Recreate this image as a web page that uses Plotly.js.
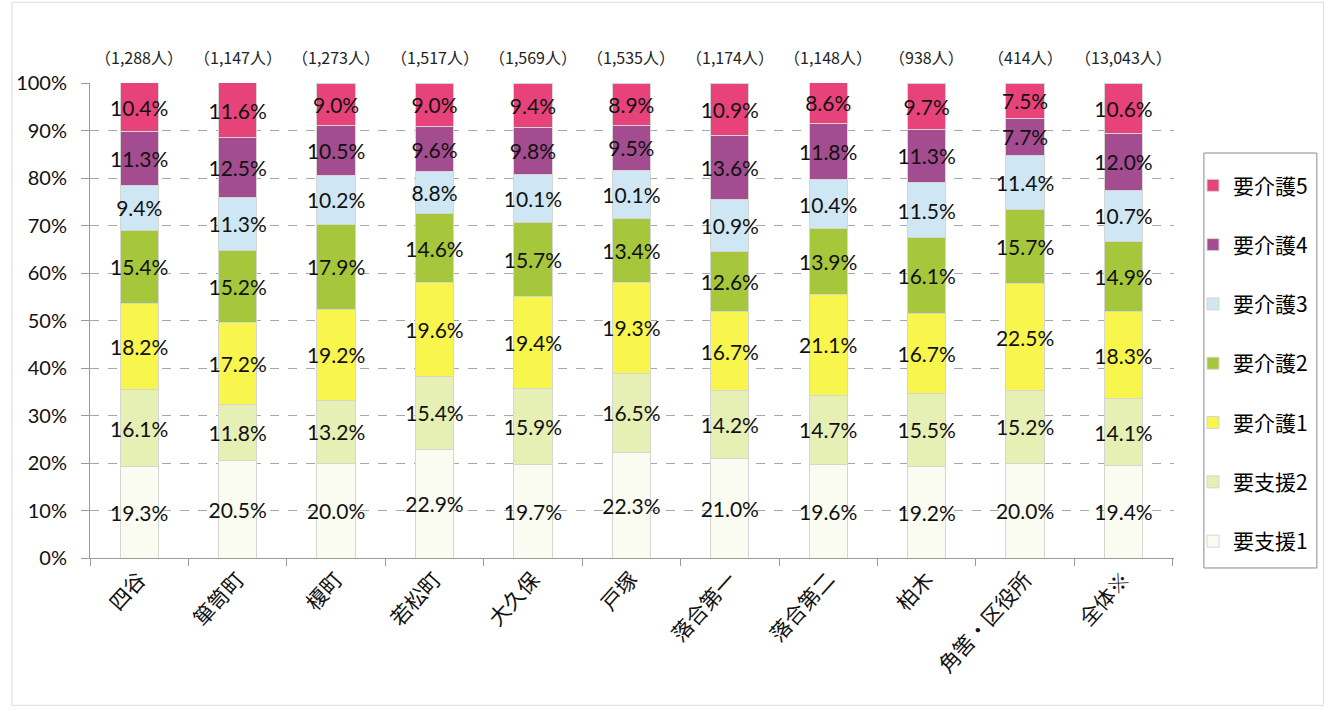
<!DOCTYPE html>
<html><head><meta charset="utf-8">
<script src="https://cdn.plot.ly/plotly-3.0.1.min.js"></script>
<style>html,body{margin:0;padding:0;background:#fff;}</style>
</head><body>
<div id="chart" style="width:1324px;height:712px;"></div>
<script>
const categories = ['四谷','箪笥町','榎町','若松町','大久保','戸塚','落合第一','落合第二','柏木','角筈・区役所','全体※'];
const counts = ['（1,288人）','（1,147人）','（1,273人）','（1,517人）','（1,569人）','（1,535人）','（1,174人）','（1,148人）','（938人）','（414人）','（13,043人）'];
const seriesNames = ['要支援1','要支援2','要介護1','要介護2','要介護3','要介護4','要介護5'];
const shien1 = [19.3,20.5,20.0,22.9,19.7,22.3,21.0,19.6,19.2,20.0,19.4];
const shien2 = [16.1,11.8,13.2,15.4,15.9,16.5,14.2,14.7,15.5,15.2,14.1];
const kaigo1 = [18.2,17.2,19.2,19.6,19.4,19.3,16.7,21.1,16.7,22.5,18.3];
const kaigo2 = [15.4,15.2,17.9,14.6,15.7,13.4,12.6,13.9,16.1,15.7,14.9];
const kaigo3 = [9.4,11.3,10.2,8.8,10.1,10.1,10.9,10.4,11.5,11.4,10.7];
const kaigo4 = [11.3,12.5,10.5,9.6,9.8,9.5,13.6,11.8,11.3,7.7,12.0];
const kaigo5 = [10.4,11.6,9.0,9.0,9.4,8.9,10.9,8.6,9.7,7.5,10.6];
const seriesValues = [shien1,shien2,kaigo1,kaigo2,kaigo3,kaigo4,kaigo5];
const colors = ['#fbfcf1','#e6efb4','#f8f54c','#a6c63c','#cfe7f5','#a34c8f','#e8427a'];
const yTicks = [0,10,20,30,40,50,60,70,80,90,100];

const numFont = 'Lato, "Open Sans", sans-serif';
const cjkFont = '"Noto Sans CJK JP", sans-serif';
const traces = seriesValues.map((vals,i)=>({
  type:'bar',
  name: seriesNames[i],
  legendgroup: seriesNames[i],
  legendrank: 100 - i*10,
  x: categories,
  y: vals,
  text: vals.map(v=>v.toFixed(1)+'%'),
  textposition:'inside',
  insidetextanchor:'middle',
  constraintext:'none',
  textangle:0,
  textfont:{family:numFont,size:21,color:'#111'},
  marker:{color:colors[i],line:{color:'#d6d6d0',width:1}},
  hoverinfo:'skip'
}));

const annotations = categories.map((c,i)=>({
  x:c, y:100, xref:'x', yref:'y', yanchor:'bottom', yshift:12,
  text:counts[i], showarrow:false,
  font:{family:cjkFont,size:16,color:'#222'}
}));

const layout = {
  width:1324, height:712,
  paper_bgcolor:'#fff', plot_bgcolor:'#fff',
  margin:{l:90,r:149,t:83,b:154},
  barmode:'stack', bargap:0.61,
  font:{family:cjkFont,color:'#111'},
  xaxis:{
    type:'category', tickangle:-48,
    tickfont:{family:cjkFont,size:21,color:'#111'},
    showline:true, linecolor:'#9a9a9a', linewidth:1,
    ticks:'outside', tickson:'boundaries', ticklen:7, tickcolor:'#9a9a9a',
    showgrid:false
  },
  yaxis:{
    range:[0,100], tickvals:yTicks, ticktext:yTicks.map(v=>v+'%'),
    tickfont:{family:numFont,size:20,color:'#111'},
    ticklabelstandoff:10,
    showgrid:true, gridcolor:'#a8a8a8', griddash:'dash', gridwidth:1,
    showline:true, linecolor:'#9a9a9a', linewidth:1,
    ticks:'outside', ticklen:8, tickcolor:'#9a9a9a',
    zeroline:false
  },
  legend:{
    x:1.0166, xanchor:'left', y:0.827, yanchor:'top',
    traceorder:'grouped', tracegroupgap:29,
    borderwidth:0, bgcolor:'rgba(0,0,0,0)',
    font:{family:cjkFont,size:21,color:'#000'},
    itemwidth:30
  },
  annotations: annotations,
  shapes:[
    {type:'rect',xref:'paper',yref:'paper',x0:-0.072,x1:1.138,y0:-0.31,y1:1.17,line:{color:'#dcdcdc',width:1}},
    {type:'rect',xref:'paper',yref:'paper',x0:1.0276,x1:1.1318,y0:-0.021,y1:0.8526,line:{color:'#8a8a8a',width:1}}
  ],
  showlegend:true
};

Plotly.newPlot('chart', traces, layout, {displayModeBar:false, staticPlot:true});
</script>
</body></html>
